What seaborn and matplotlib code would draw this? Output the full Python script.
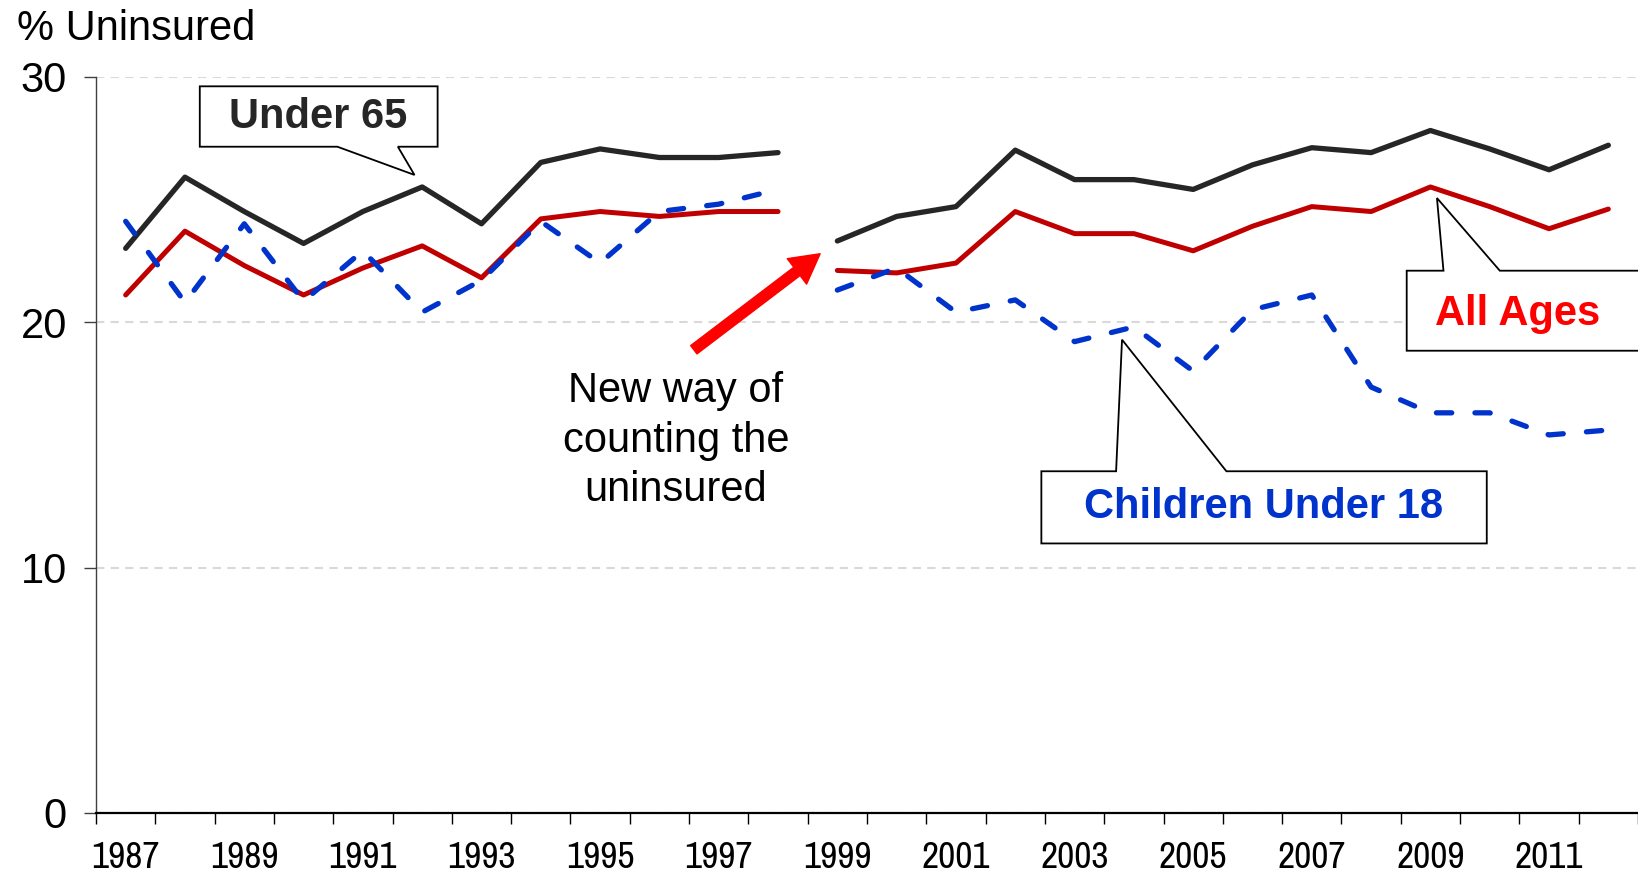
import matplotlib
matplotlib.use("Agg")
import logging
import matplotlib.pyplot as plt
import pandas as pd
import seaborn as sns
from matplotlib.patches import Polygon, FancyArrowPatch

logging.getLogger("matplotlib.font_manager").setLevel(logging.ERROR)

# Data
years = list(range(1987, 2013))
under_65 = [23.0, 25.9, 24.5, 23.2, 24.5, 25.5, 24.0, 26.5, 27.05, 26.7, 26.7, 26.9,
            23.3, 24.3, 24.7, 27.0, 25.8, 25.8, 25.4, 26.4, 27.1, 26.9, 27.8, 27.05, 26.2, 27.2]
all_ages = [21.1, 23.7, 22.3, 21.1, 22.2, 23.1, 21.8, 24.2, 24.5, 24.3, 24.5, 24.5,
            22.1, 22.0, 22.4, 24.5, 23.6, 23.6, 22.9, 23.9, 24.7, 24.5, 25.5, 24.7, 23.8, 24.6]
children = [24.1, 20.8, 24.0, 20.85, 22.9, 20.4, 21.7, 24.1, 22.4, 24.5, 24.8, 25.4,
            21.3, 22.2, 20.4, 20.9, 19.2, 19.8, 18.0, 20.5, 21.1, 17.35, 16.3, 16.3, 15.4, 15.6]
break_year = 1999  # survey method changed
tick_years = list(range(1987, 2012, 2))
y_ticks = [0, 10, 20, 30]

df = pd.DataFrame({"year": years, "Under 65": under_65,
                   "All Ages": all_ages, "Children Under 18": children})
df["era"] = ["new" if y >= break_year else "old" for y in years]
long_df = df.melt(id_vars=["year", "era"], var_name="series", value_name="pct")

sns.set_theme(style="white")
plt.rcParams["font.family"] = ["Liberation Sans", "DejaVu Sans"]
plt.rcParams["text.color"] = "black"
plt.rcParams["xtick.color"] = "black"
plt.rcParams["ytick.color"] = "black"
narrow = ["Liberation Sans Narrow", "Arial Narrow", "Archivo Narrow",
          "PT Sans Narrow", "Roboto Condensed", "Liberation Sans"]

fig = plt.figure(figsize=(16.38, 8.73), dpi=100)
ax = fig.add_axes([96 / 1638, 1 - 813 / 873, (1638 - 96) / 1638, (813 - 76.5) / 873])

styles = {
    "Under 65": dict(color="#262626", lw=3.8),
    "All Ages": dict(color="#C00000", lw=3.6),
    "Children Under 18": dict(color="#0033CC", lw=3.8,
                              linestyle=(0, (2.9, 4.4)), dash_capstyle="round"),
}
for name, kw in styles.items():
    sns.lineplot(data=long_df[long_df["series"] == name], x="year", y="pct",
                 units="era", estimator=None, ax=ax, legend=False, **kw)

ax.set_xlim(1986.5, 2012.33)
ax.set_ylim(0, 30)
ax.set_xlabel("")
ax.set_ylabel("")

# axes styling
for s in ["top", "right"]:
    ax.spines[s].set_visible(False)
ax.spines["left"].set_color("#404040")
ax.spines["left"].set_linewidth(1.0)
ax.spines["bottom"].set_color("black")
ax.spines["bottom"].set_linewidth(1.6)

ax.set_yticks(y_ticks)
ax.set_yticklabels([str(v) for v in y_ticks], fontsize=30)
ax.tick_params(axis="y", direction="out", length=9, width=1, color="#404040", pad=12, left=True)

ax.set_xticks(tick_years)
ax.set_xticklabels([str(y) for y in tick_years], fontsize=27, family=narrow)
ax.set_xticks([y - 0.5 for y in years] + [2012.5], minor=True)
ax.tick_params(axis="x", which="major", length=0, pad=20)
ax.tick_params(axis="x", which="minor", direction="out", length=8, width=1, color="black", bottom=True)

ax.yaxis.grid(True, color="#D9D9D9", linestyle=(0, (4, 3)), lw=1.5)
ax.xaxis.grid(False)
ax.set_axisbelow(True)

fig.text(17 / 1638, 1 - 29 / 873, "% Uninsured", fontsize=30, ha="left", va="center")


def callout(x0, x1, yb, yt, bl, br, tip, text, color, tx, ty):
    # box outline with a wedge pointing at tip, attached to the nearer edge
    if tip[1] < yb:
        verts = [(br, yb), (x1, yb), (x1, yt), (x0, yt), (x0, yb), (bl, yb), tip]
    else:
        verts = [(br, yt), (x1, yt), (x1, yb), (x0, yb), (x0, yt), (bl, yt), tip]
    ax.add_patch(Polygon(verts, closed=True, facecolor="white", edgecolor="black",
                         lw=1.3, zorder=5, clip_on=False))
    ax.text(tx, ty, text, color=color, fontsize=30, fontweight="bold",
            ha="center", va="center", zorder=6)


callout(1988.25, 1992.26, 27.14, 29.6, 1990.57, 1991.59, (1991.87, 25.99),
        "Under 65", "#262626", 1990.25, 28.36)
callout(2008.6, 2013.5, 18.83, 22.09, 2009.22, 2010.17, (2009.11, 25.05),
        "All Ages", "#FF0000", 2010.47, 20.34)
callout(2002.44, 2009.95, 10.98, 13.92, 2003.7, 2005.56, (2003.8, 19.28),
        "Children Under 18", "#0033CC", 2006.19, 12.45)

# red arrow marking the change in survey method
ax.add_patch(FancyArrowPatch((1996.58, 18.87), (1998.71, 22.78),
                             arrowstyle="simple,head_length=21,head_width=23,tail_width=7.5",
                             color="#FF0000", shrinkA=0, shrinkB=0, zorder=4))
ax.text(1996.28, 15.17, "New way of\ncounting the\nuninsured", fontsize=30,
        ha="center", va="center", linespacing=1.3, color="black")

plt.savefig("out.png", dpi=100)
